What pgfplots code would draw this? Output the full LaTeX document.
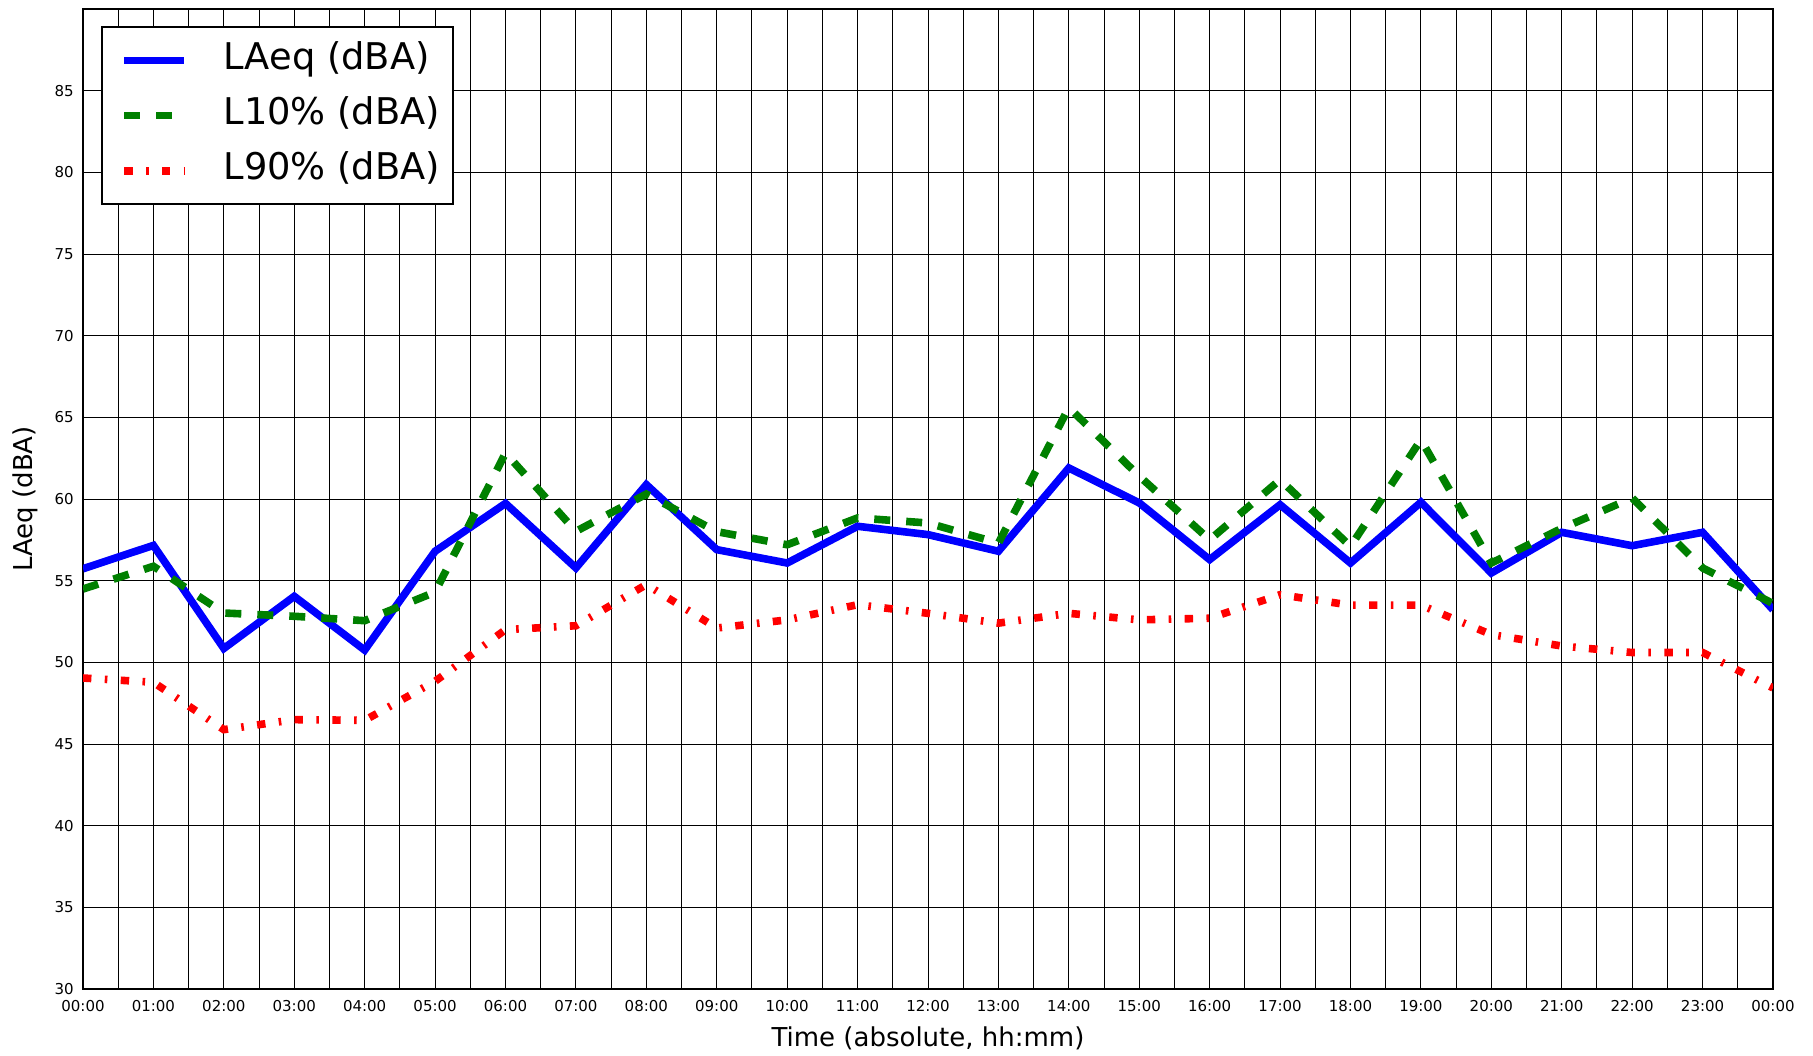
\documentclass[border=0pt]{standalone}
\usepackage{fontspec}
\setmainfont{DejaVu Sans}
\usepackage{pgfplots}
\pgfplotsset{compat=1.18}
\definecolor{mgreen}{RGB}{0,128,0}
\begin{document}
\begin{tikzpicture}
\path[use as bounding box] (-41.5bp,-33.5bp) rectangle (865bp,494.5bp);
\begin{axis}[
  at={(0,0)}, anchor=south west,
  scale only axis, width=845bp, height=490bp,
  xmin=0, xmax=24, ymin=30, ymax=90,
  xtick={0,1,...,24},
  xticklabels={00:00,01:00,02:00,03:00,04:00,05:00,06:00,07:00,08:00,09:00,10:00,11:00,12:00,13:00,14:00,15:00,16:00,17:00,18:00,19:00,20:00,21:00,22:00,23:00,00:00},
  minor xtick={0.5,1.5,...,23.5},
  ytick={30,35,...,85},
  grid=both,
  major grid style={black, line width=0.5bp},
  minor grid style={black, line width=0.5bp},
  axis line style={black, line width=0.6bp},
  tick align=inside,
  major tick length=5bp, minor tick length=2.5bp,
  every tick/.style={black, line width=0.5bp},
  /pgf/number format/assume math mode=true,
  tick label style={font=\fontsize{7.5bp}{9bp}\selectfont, inner sep=0pt},
  x tick label style={anchor=north, yshift=-5.7bp},
  y tick label style={anchor=east, xshift=-4.5bp},
  xlabel={Time (absolute, hh:mm)},
  ylabel={LAeq (dBA)},
  label style={font=\fontsize{13bp}{15bp}\selectfont},
  xlabel style={at={(axis description cs:0.5,-0.05)}, anchor=center},
  ylabel style={at={(axis description cs:-0.0343,0.5)}, anchor=center},
  legend cell align=left,
  legend image code/.code={\path (0bp,0bp); \draw[#1] (2.8bp,0bp) -- (32.8bp,0bp);},
  legend style={
    at={(0.0104,0.9830)}, anchor=north west,
    draw=black, line width=1.3bp, fill=white,
    font=\fontsize{18.4bp}{22bp}\selectfont,
    inner xsep=6.5bp, inner ysep=7.7bp,
    row sep=9.6bp,
    nodes={inner sep=0pt, text height=13.5bp, text depth=4.5bp},
    /tikz/every odd column/.style={column sep=17.8bp},
  },
]
\addplot[blue, line width=3.8bp, line join=miter] table {
0 55.73
1 57.16
2 50.85
3 54.04
4 50.75
5 56.8
6 59.73
7 55.78
8 60.88
9 56.9
10 56.08
11 58.33
12 57.82
13 56.8
14 61.9
15 59.76
16 56.29
17 59.65
18 56.08
19 59.8
20 55.47
21 57.96
22 57.14
23 57.96
24 53.22
};
\addlegendentry{LAeq (dBA)}
\addplot[mgreen, line width=3.8bp, dash pattern=on 8bp off 8bp] table {
0 54.49
1 55.88
2 53.02
3 52.82
4 52.55
5 54.3
6 62.82
7 58.02
8 60.3
9 58.0
10 57.2
11 58.84
12 58.53
13 57.3
14 65.6
15 61.4
16 57.5
17 61.18
18 57.1
19 63.63
20 56.08
21 58.2
22 60.06
23 55.78
24 53.6
};
\addlegendentry{L10\% (dBA)}
\addplot[red, line width=3.8bp, dash pattern=on 4.2bp off 6.7bp on 1.3bp off 6.7bp] table {
0 49.04
1 48.78
2 45.88
3 46.49
4 46.45
5 48.84
6 52.0
7 52.24
8 54.76
9 52.1
10 52.6
11 53.53
12 53.0
13 52.4
14 53.0
15 52.6
16 52.7
17 54.14
18 53.5
19 53.5
20 51.7
21 51.0
22 50.6
23 50.6
24 48.43
};
\addlegendentry{L90\% (dBA)}
\end{axis}
\end{tikzpicture}
\end{document}
